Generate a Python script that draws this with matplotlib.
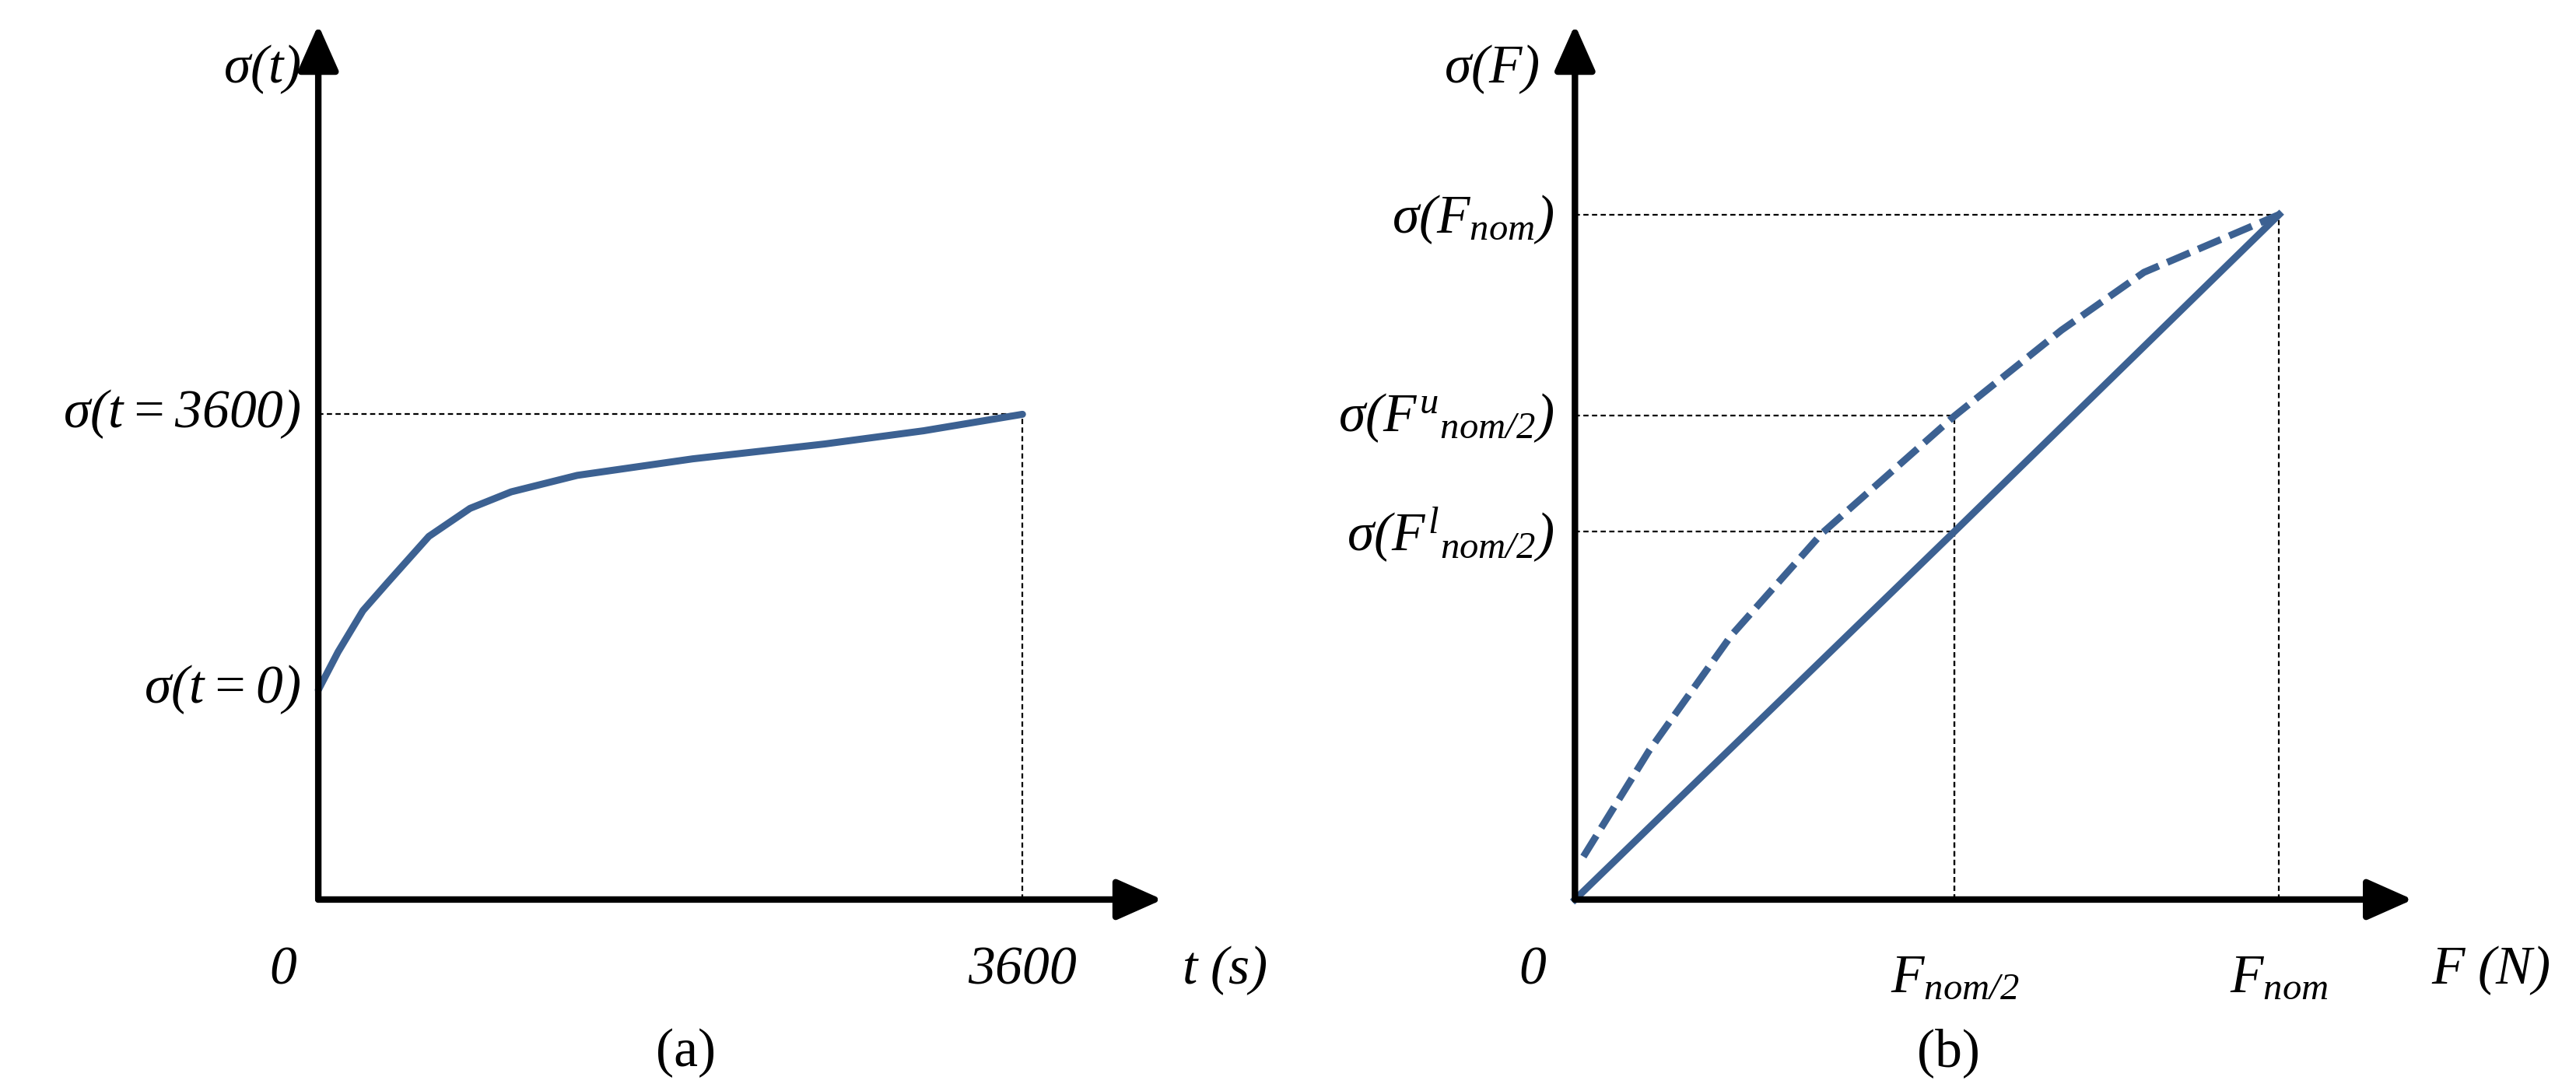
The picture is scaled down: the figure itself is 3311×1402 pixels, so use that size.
import matplotlib.pyplot as plt
import numpy as np

plt.rcParams['mathtext.fontset'] = 'custom'
plt.rcParams['mathtext.rm'] = 'Liberation Serif:italic'
plt.rcParams['mathtext.it'] = 'Liberation Serif:italic'
plt.rcParams['font.family'] = 'Liberation Serif'

BLUE = '#3c6192'

# panel (a): stress relaxation curve sigma(t)
t_vals = [0, 101, 228, 354, 565, 776, 986, 1324, 1914, 2588, 3094, 3600]
sig_t = [1.27, 1.50, 1.75, 1.92, 2.20, 2.37, 2.47, 2.57, 2.67, 2.76, 2.84, 2.94]

# panel (b): sigma(F) upper (dashed) and lower (solid) branches
F_upper = [0, 0.012, 0.105, 0.222, 0.351, 0.539, 0.691, 0.808, 1.0]
sig_upper = [0, 0.26, 0.90, 1.60, 2.22, 2.93, 3.45, 3.80, 4.15]
F_lower = [0, 0.539, 1.0]
sig_lower = [0, 2.23, 4.15]

# layout in reference display units (1562 x 661)
W, H = 1562, 661
fig = plt.figure(figsize=(33.11, 14.02), dpi=100)

FS = 50
AX_LW = 6
TICK_Y = -0.33


def make_axes(x0_px, unit_px, y0_px=545, yunit=100):
    ax = fig.add_axes([0, 0, 1, 1])
    ax.set_xlim(-x0_px / unit_px, (W - x0_px) / unit_px)
    ax.set_ylim(-(H - y0_px) / yunit, y0_px / yunit)
    ax.axis('off')
    ax.patch.set_alpha(0)
    return ax


def draw_axes(ax, xend, ytop):
    style = '-|>,head_length=0.9,head_width=0.4'
    for end in [(xend, 0), (0, ytop)]:
        ax.annotate('', xy=end, xytext=(0, 0),
                    arrowprops=dict(arrowstyle=style, lw=AX_LW, color='black',
                                    shrinkA=0, shrinkB=0, mutation_scale=40))


def guide(ax, x, y):
    ax.plot([0, x], [y, y], color='black', ls=(0, (3, 2)), lw=1.6)
    ax.plot([x, x], [0, y], color='black', ls=(0, (3, 2)), lw=1.6)


# ---- panel (a)
ppt = 427 / 3600
axa = make_axes(193, ppt)
guide(axa, t_vals[-1], sig_t[-1])
axa.plot(t_vals, sig_t, color=BLUE, lw=6.5, solid_capstyle='round', solid_joinstyle='round')
draw_axes(axa, 4316, 5.3)
axa.text(-90, 5.03, r'$\sigma(t)$', fontsize=FS, ha='right', va='center')
axa.text(-90, sig_t[-1], r'$\sigma(t = 3600)$', fontsize=FS, ha='right', va='center')
axa.text(-90, sig_t[0], r'$\sigma(t = 0)$', fontsize=FS, ha='right', va='center')
axa.text(-180, TICK_Y - 0.1, r'$0$', fontsize=FS, ha='center', va='center')
axa.text(3600, TICK_Y - 0.1, r'$3600$', fontsize=FS, ha='center', va='center')
axa.text(4630, TICK_Y - 0.1, r'$t\ (s)$', fontsize=FS, ha='center', va='center')
axa.text(1880, -0.93, '(a)', fontsize=FS, ha='center', va='center')

# ---- panel (b)
axb = make_axes(955, 427)
guide(axb, F_lower[-1], sig_lower[-1])
guide(axb, F_upper[5], sig_upper[5])
guide(axb, F_lower[1], sig_lower[1])
axb.plot(F_upper[1:], sig_upper[1:], color=BLUE, lw=6.5, ls=(0, (3.5, 1.3)))
axb.plot(F_lower, sig_lower, color=BLUE, lw=6.5)
draw_axes(axb, 1.19, 5.3)
axb.text(-0.05, 5.03, r'$\sigma(F)$', fontsize=FS, ha='right', va='center')
axb.text(-0.03, 4.12, r'$\sigma(F_{nom})$', fontsize=FS, ha='right', va='center')
axb.text(-0.03, 2.92, r'$\sigma(F^{u}{}_{nom/2})$', fontsize=FS, ha='right', va='center')
axb.text(-0.03, 2.21, r'$\sigma(F^{l}{}_{nom/2})$', fontsize=FS, ha='right', va='center')
axb.text(-0.06, TICK_Y - 0.1, r'$0$', fontsize=FS, ha='center', va='center')
axb.text(0.539, TICK_Y - 0.15, r'$F_{nom/2}$', fontsize=FS, ha='center', va='center')
axb.text(1.0, TICK_Y - 0.15, r'$F_{nom}$', fontsize=FS, ha='center', va='center')
axb.text(1.3, TICK_Y - 0.1, r'$F\ (N)$', fontsize=FS, ha='center', va='center')
axb.text(0.53, -0.93, '(b)', fontsize=FS, ha='center', va='center')

fig.savefig('out.png', dpi=100)
